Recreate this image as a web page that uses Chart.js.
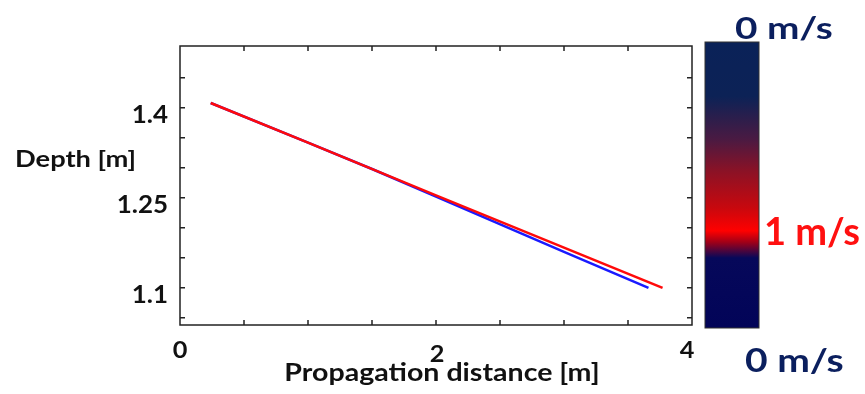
<!DOCTYPE html>
<html>
<head>
<meta charset="utf-8">
<script src="https://cdn.jsdelivr.net/npm/chart.js@4"></script>
<style>
  html, body { margin: 0; padding: 0; background: #fff; }
  #wrap { width: 865px; height: 394px; }
</style>
</head>
<body>
<div id="wrap"><canvas id="canvasOne"></canvas></div>
<script>
// values
const redX = [0.24, 1.0, 2.0, 3.0, 3.77];
const redY = [1.408, 1.342, 1.254, 1.167, 1.1];
const blueX = [0.24, 1.0, 1.5, 2.0, 3.0, 3.66];
const blueY = [1.408, 1.342, 1.298, 1.252, 1.160, 1.1];

const xTickLabels = [0, 2, 4];
const yTickLabels = [1.4, 1.25, 1.1];
const xTickMarks = [0.5, 1, 1.5, 2, 2.5, 3, 3.5];
const yTickMarks = [1.05, 1.1, 1.15, 1.2, 1.25, 1.3, 1.35, 1.4, 1.45];

const FONT = "Lato, 'Open Sans', sans-serif";

const toPoints = (xs, ys) => xs.map((x, i) => ({ x: x, y: ys[i] }));

// the source picture is stretched sideways, so text is widened to fit
function wideText(ctx, text, x, y, size, stretch, align) {
  ctx.save();
  ctx.font = "bold " + size + "px " + FONT;
  ctx.textBaseline = "middle";
  ctx.textAlign = "left";
  const w = ctx.measureText(text).width * stretch;
  let left = x;
  if (align === "center") left = x - w / 2;
  if (align === "right") left = x - w;
  ctx.translate(left, y);
  ctx.scale(stretch, 1);
  ctx.fillText(text, 0, 0);
  ctx.restore();
}

// inner ticks, big labels, titles and the colour bar
const decor = {
  id: "decor",
  afterDraw(chart) {
    const ctx = chart.ctx;
    const xs = chart.scales.x;
    const ys = chart.scales.y;
    const a = chart.chartArea;

    ctx.save();
    ctx.strokeStyle = "#222";
    ctx.lineWidth = 1.5;
    ctx.strokeRect(a.left, a.top, a.right - a.left, a.bottom - a.top);

    ctx.beginPath();
    xTickMarks.forEach(v => {
      const p = xs.getPixelForValue(v);
      ctx.moveTo(p, a.bottom); ctx.lineTo(p, a.bottom - 5);
      ctx.moveTo(p, a.top); ctx.lineTo(p, a.top + 5);
    });
    yTickMarks.forEach(v => {
      const p = ys.getPixelForValue(v);
      ctx.moveTo(a.left, p); ctx.lineTo(a.left + 5, p);
      ctx.moveTo(a.right, p); ctx.lineTo(a.right - 5, p);
    });
    ctx.stroke();

    ctx.fillStyle = "#111";
    yTickLabels.forEach(v => {
      wideText(ctx, String(v), 168, ys.getPixelForValue(v) + 7, 24, 1.08, "right");
    });
    xTickLabels.forEach(v => {
      const shift = v === 4 ? -5 : (v === 2 ? 1 : 0);
      wideText(ctx, String(v), xs.getPixelForValue(v) + shift, v === 2 ? 355 : 351, 23, 1.1, "center");
    });

    wideText(ctx, "Depth [m]", 15, 160, 22, 1.24, "left");
    wideText(ctx, "Propagation distance [m]", 442, 373, 24, 1.19, "center");

    // colour bar
    const bx = 705, by = 42, bw = 54, bh = 286;
    const g = ctx.createLinearGradient(0, by, 0, by + bh);
    g.addColorStop(0, "#0a2258");
    g.addColorStop(0.19, "#0c2256");
    g.addColorStop(0.34, "#4a1a42");
    g.addColorStop(0.45, "#8a1226");
    g.addColorStop(0.58, "#c8080e");
    g.addColorStop(0.66, "#ff0000");
    g.addColorStop(0.7, "#a00018");
    g.addColorStop(0.755, "#06085a");
    g.addColorStop(1, "#020458");
    ctx.fillStyle = g;
    ctx.fillRect(bx, by, bw, bh);
    ctx.strokeStyle = "#333";
    ctx.lineWidth = 1;
    ctx.strokeRect(bx, by, bw, bh);

    ctx.fillStyle = "#0b1f5e";
    wideText(ctx, "0 m/s", 735, 29, 31, 1.25, "left");
    wideText(ctx, "0 m/s", 745, 362, 32, 1.22, "left");
    ctx.fillStyle = "#ff1010";
    wideText(ctx, "1 m/s", 764, 233, 38, 1.0, "left");
    ctx.restore();
  }
};

new Chart(document.getElementById("canvasOne"), {
  type: "scatter",
  data: {
    datasets: [
      {
        label: "blue",
        data: toPoints(blueX, blueY),
        showLine: true,
        borderColor: "#1a1aff",
        borderWidth: 2.5,
        pointRadius: 0,
        order: 2
      },
      {
        label: "red",
        data: toPoints(redX, redY),
        showLine: true,
        borderColor: "#ff0a0a",
        borderWidth: 2.5,
        pointRadius: 0,
        order: 1
      }
    ]
  },
  options: {
    responsive: true,
    maintainAspectRatio: false,
    animation: false,
    layout: { padding: { left: 180, right: 173, top: 46, bottom: 69 } },
    plugins: { legend: { display: false }, tooltip: { enabled: false } },
    scales: {
      x: {
        type: "linear",
        min: 0,
        max: 4,
        display: false
      },
      y: {
        type: "linear",
        min: 1.038,
        max: 1.503,
        display: false
      }
    }
  },
  plugins: [decor]
});
</script>
</body>
</html>
